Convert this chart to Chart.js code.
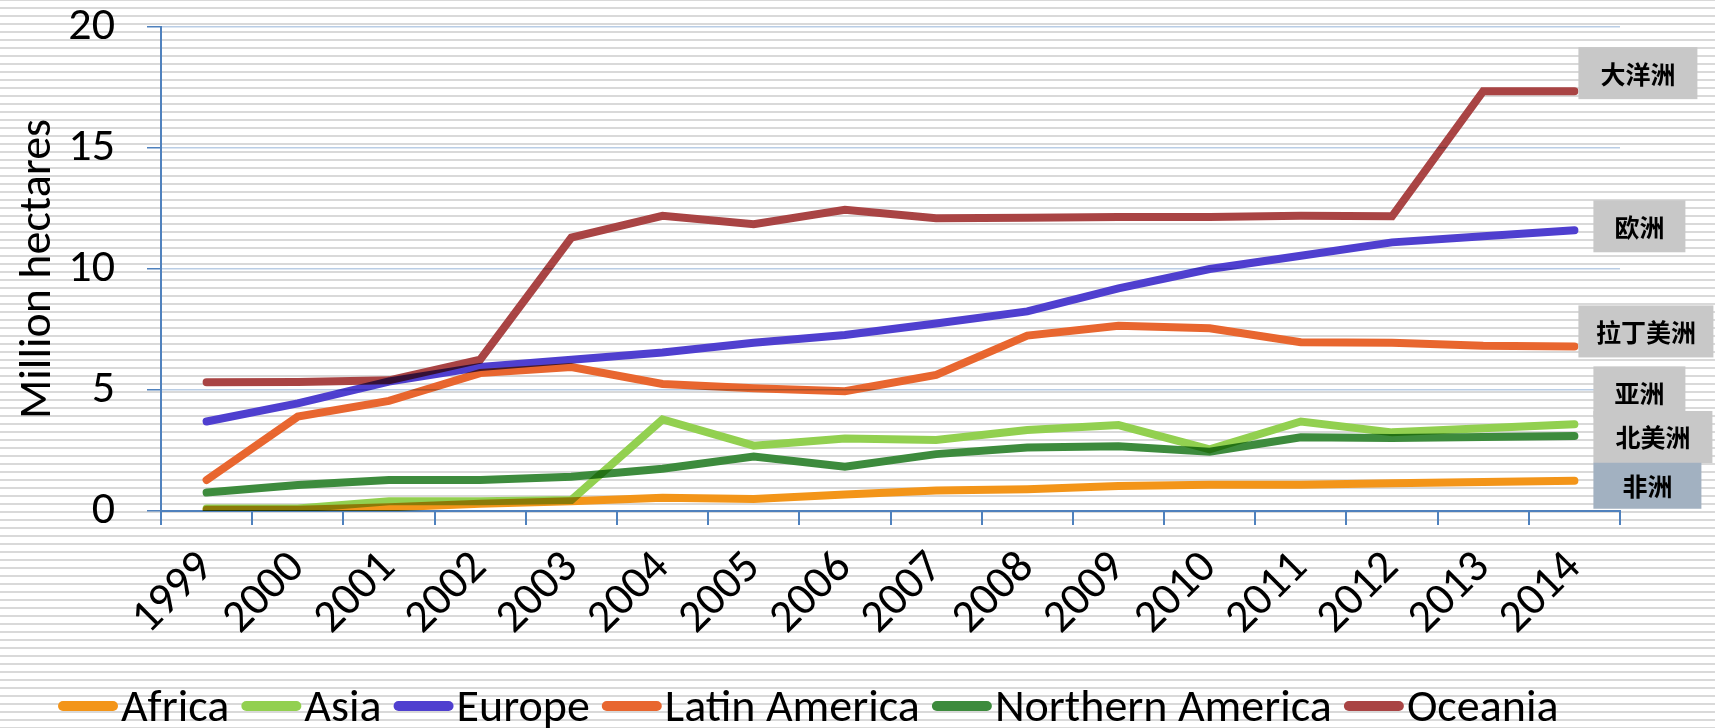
<!DOCTYPE html>
<html>
<head>
<meta charset="utf-8">
<script src="https://cdn.jsdelivr.net/npm/chart.js@4.4.1/dist/chart.umd.min.js"></script>
<style>
    html, body { margin: 0; padding: 0; }
    body {
        width: 1715px;
        height: 728px;
        overflow: hidden;
        background: repeating-linear-gradient(to bottom, #d9d9d9 0px, #d9d9d9 2px, #ffffff 2px, #ffffff 8px);
        background-position: 0 7px;
    }
    #chart { display: block; }
</style>
</head>
<body>
<canvas id="chart" width="1715" height="728"></canvas>
<script>
const years = ["1999", "2000", "2001", "2002", "2003", "2004", "2005", "2006",
    "2007", "2008", "2009", "2010", "2011", "2012", "2013", "2014"];

const africa = [0.05, 0.05, 0.15, 0.3, 0.4, 0.55, 0.5, 0.68, 0.85, 0.9, 1.03, 1.08, 1.08, 1.15, 1.2, 1.25];
const asia = [0.1, 0.1, 0.4, 0.4, 0.45, 3.78, 2.7, 3.0, 2.93, 3.35, 3.55, 2.55, 3.7, 3.25, 3.42, 3.58];
const europe = [3.7, 4.45, 5.35, 5.95, 6.25, 6.55, 6.95, 7.27, 7.75, 8.25, 9.2, 10.0, 10.55, 11.1, 11.35, 11.6];
const latinAmerica = [1.28, 3.9, 4.55, 5.7, 5.95, 5.25, 5.07, 4.95, 5.62, 7.25, 7.65, 7.55, 6.97, 6.95, 6.83, 6.8];
const northernAmerica = [0.76, 1.07, 1.28, 1.28, 1.42, 1.75, 2.25, 1.83, 2.35, 2.62, 2.68, 2.45, 3.05, 3.02, 3.06, 3.1];
const oceania = [5.32, 5.33, 5.4, 6.25, 11.3, 12.2, 11.85, 12.45, 12.1, 12.12, 12.15, 12.15, 12.2, 12.18, 17.35, 17.35];

const seriesNames = ["Africa", "Asia", "Europe", "Latin America", "Northern America", "Oceania"];
const seriesColors = ["#f39519", "#92d050", "#4f3fcf", "#e8662f", "#3d8b3d", "#a94444"];
const yTicks = [0, 5, 10, 15, 20];

// Chinese end labels, drawn next to the last point of each series
const endLabels = [
    { text: "大洋洲", series: 5, dx: 4, dy: -44, w: 119, h: 52, fill: "#c8c8c8" },
    { text: "欧洲", series: 2, dx: 19, dy: -30, w: 92, h: 52, fill: "#c8c8c8" },
    { text: "拉丁美洲", series: 3, dx: 4, dy: -41, w: 135, h: 52, fill: "#c8c8c8" },
    { text: "亚洲", series: 1, dx: 19, dy: -58, w: 92, h: 52, fill: "#c8c8c8" },
    { text: "北美洲", series: 4, dx: 19, dy: -25, w: 119, h: 52, fill: "#c8c8c8" },
    { text: "非洲", series: 0, dx: 19, dy: -18, w: 108, h: 46, fill: "#a2b1c1" },
];

const fontFamily = "Carlito, Calibri, Lato, sans-serif";
const fontSize = 46;
const axisBlue = "#4f81bd";

const multiplyLines = {
    id: "multiplyLines",
    beforeDatasetsDraw(chart) {
        chart.ctx.save();
        chart.ctx.globalCompositeOperation = "multiply";
    },
    afterDatasetsDraw(chart) {
        chart.ctx.restore();
    },
};

const endLabelPlugin = {
    id: "endLabels",
    afterDatasetsDraw(chart) {
        const ctx = chart.ctx;
        ctx.save();
        ctx.font = "bold 25px 'Noto Sans CJK SC'";
        ctx.textAlign = "center";
        ctx.textBaseline = "middle";
        endLabels.forEach((lab) => {
            const meta = chart.getDatasetMeta(lab.series);
            const pt = meta.data[meta.data.length - 1];
            const left = pt.x + lab.dx;
            const top = pt.y + lab.dy;
            ctx.fillStyle = lab.fill;
            ctx.fillRect(left, top, lab.w, lab.h);
            ctx.fillStyle = "#000000";
            ctx.fillText(lab.text, left + lab.w / 2, top + lab.h / 2 + 1);
        });
        ctx.restore();
    },
};

const bottomLegend = {
    id: "bottomLegend",
    afterDraw(chart) {
        const ctx = chart.ctx;
        ctx.save();
        ctx.font = `${fontSize}px ${fontFamily}`;
        ctx.textBaseline = "alphabetic";
        let x = 58;
        const y = 706;
        chart.data.datasets.forEach((ds) => {
            ctx.fillStyle = ds.borderColor;
            ctx.beginPath();
            ctx.roundRect(x, y - 5, 60, 10, 5);
            ctx.fill();
            x += 63;
            ctx.fillStyle = "#000000";
            ctx.fillText(ds.label, x, 721);
            x += ctx.measureText(ds.label).width + 12;
        });
        ctx.restore();
    },
};

const seriesData = [africa, asia, europe, latinAmerica, northernAmerica, oceania];

new Chart(document.getElementById("chart"), {
    type: "line",
    data: {
        labels: years,
        datasets: seriesData.map((values, i) => ({
            label: seriesNames[i],
            data: values,
            borderColor: seriesColors[i],
            backgroundColor: seriesColors[i],
            borderWidth: 8,
            borderCapStyle: "round",
            borderJoinStyle: "miter",
            pointRadius: 0,
            tension: 0,
            fill: false,
        })),
    },
    options: {
        responsive: false,
        animation: false,
        devicePixelRatio: 1,
        layout: { padding: { top: 27, right: 95, bottom: 72, left: 0 } },
        plugins: {
            legend: { display: false },
            tooltip: { enabled: false },
        },
        scales: {
            x: {
                type: "category",
                offset: true,
                grid: { offset: true, drawOnChartArea: false, tickLength: 14, color: axisBlue, lineWidth: 2 },
                border: { color: axisBlue, width: 2 },
                ticks: {
                    autoSkip: false,
                    minRotation: 45,
                    maxRotation: 45,
                    padding: 16,
                    color: "#000000",
                    font: { family: fontFamily, size: fontSize },
                },
                afterFit: (scale) => {
                    scale.height = 145;
                    scale.paddingLeft = 0;
                    scale.paddingRight = 0;
                },
            },
            y: {
                min: 0,
                max: 20,
                afterBuildTicks: (scale) => { scale.ticks = yTicks.map((v) => ({ value: v })); },
                grid: { color: "#b9cde5", lineWidth: 1.5, tickColor: axisBlue, tickLength: 14 },
                border: { color: axisBlue, width: 2 },
                ticks: {
                    padding: 32,
                    color: "#000000",
                    font: { family: fontFamily, size: fontSize },
                },
                title: {
                    display: true,
                    text: "Million hectares",
                    color: "#000000",
                    font: { family: fontFamily, size: fontSize },
                    padding: { top: 11, bottom: 0 },
                },
                afterFit: (scale) => {
                    scale.width = 161;
                    scale.paddingTop = 0;
                    scale.paddingBottom = 0;
                },
            },
        },
    },
    plugins: [multiplyLines, endLabelPlugin, bottomLegend],
});
</script>
</body>
</html>
